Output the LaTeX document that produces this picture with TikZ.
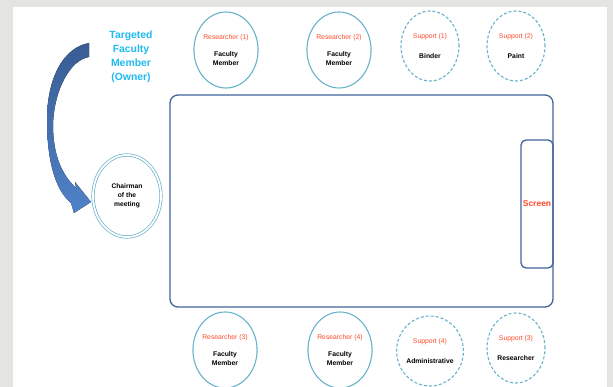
\documentclass[tikz,border=0pt]{standalone}
\usepackage{fontspec}
\setmainfont{Liberation Sans}
\usepackage{tikz}
\usetikzlibrary{shapes.geometric}
\usetikzlibrary{positioning}
\definecolor{seatline}{HTML}{68B3CB}
\definecolor{tableline}{HTML}{41639A}
\definecolor{rolered}{HTML}{FF4B2B}
\definecolor{ownercyan}{HTML}{1FBBF0}
\definecolor{arrowtop}{HTML}{395C93}
\definecolor{arrowbot}{HTML}{4E82C8}
\definecolor{paper}{HTML}{E4E4E1}
\tikzset{
    seat/.style={
           ellipse,
           draw=seatline, line width=1.1pt,
           minimum width=64pt,
           minimum height=76pt,
           inner sep=0pt,
           align=center,
           font=\fontsize{6.8}{9}\selectfont,
           },
    support/.style={
           seat,
           dash pattern=on 3pt off 2pt,
           minimum width=58pt,
           minimum height=70pt,
           },
    chair/.style={
           seat,
           double=white, double distance=1.8pt, line width=0.7pt,
           minimum width=68pt,
           minimum height=82pt,
           font=\fontsize{6.7}{9}\selectfont\bfseries,
           },
    tablebox/.style={
           rectangle,
           rounded corners=8pt,
           draw=tableline, line width=1.3pt,
           inner sep=0pt,
           },
}

\begin{document}
\begin{tikzpicture}[x=1pt,y=-1pt]
 \useasboundingbox (0,0) rectangle (613,387);
 % page and paper
 \fill[paper] (0,0) rectangle (613,387);
 \fill[white] (13,7) rectangle (607,387);

 % the meeting table
 \node[tablebox,
 minimum width=383pt,
 minimum height=212pt] (table) at (361.5,201) {};

 % the screen, on the right end of the table
 \node[tablebox,
 rounded corners=5pt,
 minimum width=32pt,
 minimum height=128pt,
 anchor=east,
 font=\fontsize{8.5}{10}\selectfont\bfseries,
 text=rolered] (screen) at ([yshift=-3pt]table.east) {Screen};

 % owner of the meeting
 \node[align=center,
 text=ownercyan,
 font=\fontsize{10.4}{14}\selectfont\bfseries] (owner) at (131,57)
 {Targeted\\Faculty\\Member\\(Owner)};

 % SEAT chairman
 \node[chair] (chair) at (127,196) {Chairman\\of the\\meeting};

 % top row of seats
 \node[seat] (res1) at (226,50)
 {\textcolor{rolered}{Researcher (1)}\\[8pt]\textbf{Faculty}\\\textbf{Member}};
 \node[seat,
 node distance=113pt,
 right of=res1] (res2)
 {\textcolor{rolered}{Researcher (2)}\\[8pt]\textbf{Faculty}\\\textbf{Member}};
 \node[support] (sup1) at (430,46)
 {\textcolor{rolered}{Support (1)}\\[11pt]\textbf{Binder}};
 \node[support,
 node distance=86pt,
 right of=sup1] (sup2)
 {\textcolor{rolered}{Support (2)}\\[11pt]\textbf{Paint}};

 % bottom row of seats
 \node[seat] (res3) at (225,350)
 {\textcolor{rolered}{Researcher (3)}\\[8pt]\textbf{Faculty}\\\textbf{Member}};
 \node[seat,
 node distance=115pt,
 right of=res3] (res4)
 {\textcolor{rolered}{Researcher (4)}\\[8pt]\textbf{Faculty}\\\textbf{Member}};
 \node[support] (sup4) at (430,351)
 {\textcolor{rolered}{Support (4)}\\[11pt]\textbf{Administrative}};
 \node[support] (sup3) at (516,348)
 {\textcolor{rolered}{Support (3)}\\[11pt]\textbf{Researcher}};

 % curved block arrow from the owner to the chairman
 \fill[top color=arrowtop, bottom color=arrowbot]
   (89,43) -- (89,57)
   .. controls (70,60) and (54,90) .. (53,125)
   .. controls (53,155) and (62,175) .. (76,188)
   -- (75,182) -- (91,202) -- (74,213) -- (71,203)
   .. controls (55,190) and (47,160) .. (47,120)
   .. controls (47,80) and (62,48) .. (89,43) -- cycle;
\end{tikzpicture}
\end{document}
